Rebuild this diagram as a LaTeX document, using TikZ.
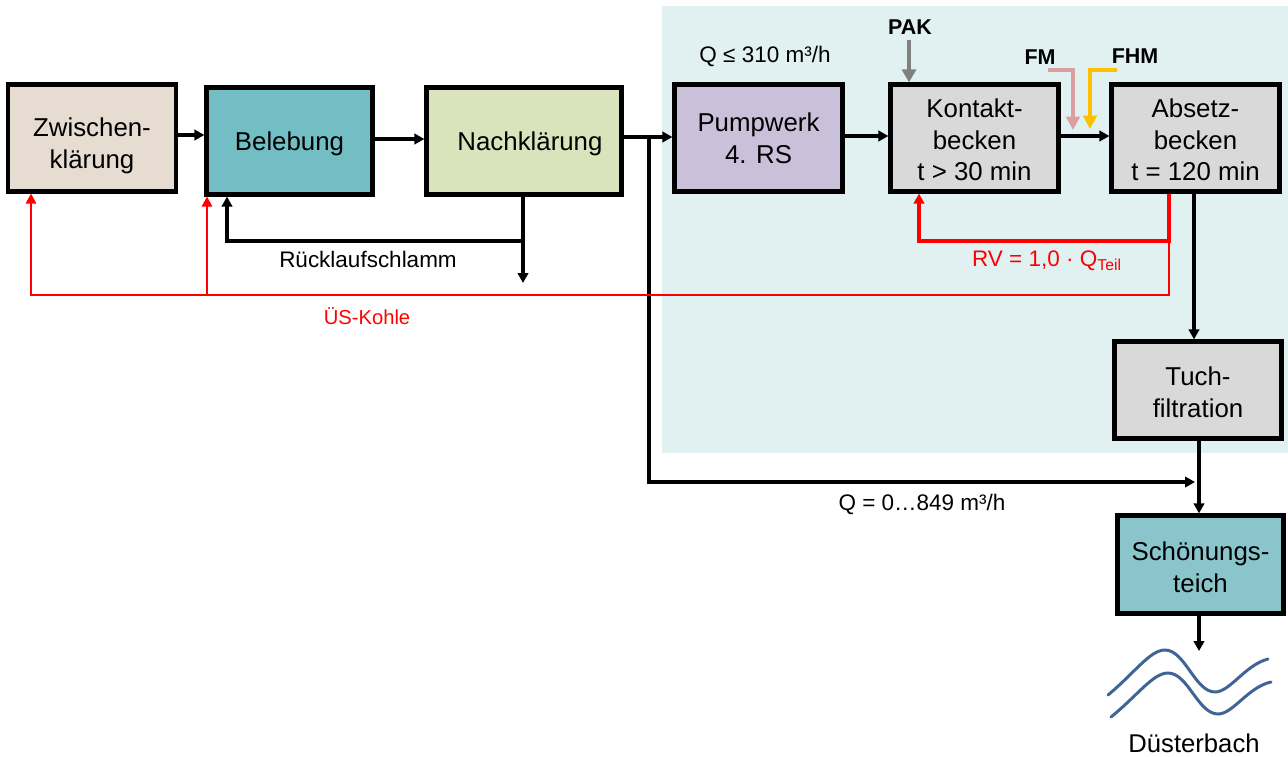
\documentclass[tikz,border=0pt]{standalone}
\usepackage{fontspec}
\setmainfont{Liberation Sans}
\usepackage{tikz}
\usetikzlibrary{arrows.meta, positioning, calc}
\definecolor{Backdrop}{HTML}{E1F1F2}
\definecolor{Sandbox}{HTML}{E7DCD1}
\definecolor{Aeration}{HTML}{73BEC4}
\definecolor{Clarifier}{HTML}{D9E4BD}
\definecolor{Pump}{HTML}{CBC0D9}
\definecolor{Basin}{HTML}{D9D9D9}
\definecolor{Pond}{HTML}{8AC5CC}
\definecolor{FmRose}{HTML}{DC9F9F}
\definecolor{FhmAmber}{HTML}{FFC000}
\definecolor{River}{HTML}{3F6496}
\newcommand{\lowered}[1]{\rule{0pt}{#1}}

\begin{document}
\begin{tikzpicture}[
          font=\fontsize{12.8}{15}\selectfont,
          stage/.style={draw=black, line width=2.4pt, align=center, inner sep=0pt,
            minimum width=3.36cm, minimum height=2.14cm, text=black,
            font=\fontsize{14.7}{18}\selectfont},
          label/.style={inner sep=0pt},
          dose/.style={inner sep=0pt, font=\fontsize{12.2}{14}\bfseries\selectfont},
          flow/.style={-{Triangle[length=2mm,width=2.1mm]}, line width=2pt, color=black},
          sludge/.style={flow, line width=1.75pt},
          carbon/.style={-{Triangle[length=2mm,width=2.1mm]}, line width=0.9pt, color=red},
          recycle/.style={carbon, line width=1.9pt},
          creek/.style={line width=1.7pt, color=River, line cap=round}
        ]
          \useasboundingbox (0,0) rectangle (25.76,-15.12);
          \fill[Backdrop] (13.24,-0.12) rectangle (25.76,-9.06);

          \node[stage, fill=Sandbox] (zw) at (1.84,-2.76) {\lowered{19.5pt}Zwischen-\\klärung};
          \node[stage, fill=Aeration, minimum width=3.32cm] (bel) at (5.79,-2.82) {\lowered{14pt}Belebung};
          \node[stage, fill=Clarifier, minimum width=3.90cm] (nach) at (10.48,-2.82) {\lowered{14pt}\hspace*{6.8pt}Nachklärung};
          \node[stage, fill=Pump] (pump) at (15.17,-2.76) {Pumpwerk\\4. RS};
          \node[stage, fill=Basin] (kontakt) at (19.49,-2.76) {\lowered{13pt}Kontakt-\\becken\\t > 30 min};
          \node[stage, fill=Basin] (absetz) at (23.91,-2.76) {\lowered{13pt}Absetz-\\becken\\t = 120 min};
          \node[stage, fill=Basin, minimum width=3.34cm, minimum height=1.94cm] (tuch) at (23.96,-7.80) {\lowered{13pt}Tuch-\\filtration};
          \node[stage, fill=Pond, minimum width=3.32cm, minimum height=1.96cm] (teich) at (24.01,-11.29) {\lowered{14pt}Schönungs-\\teich};

          \node[label] (qpump) at (15.30,-1.12) {Q ≤ 310 m³/h};
          \node[dose] (pak) at (18.20,-0.54) {PAK};
          \node[dose] (fm) at (20.80,-1.14) {FM};
          \node[dose] (fhm) at (22.70,-1.12) {FHM};
          \node[label] (rs) at (7.36,-5.18) {Rücklaufschlamm};
          \node[label, color=red, font=\fontsize{11.5}{14}\selectfont] (kohle) at (7.34,-6.32) {ÜS-Kohle};
          \node[label, color=red] (rv) at (20.94,-5.22) {RV = 1,0 · Q\textsubscript{Teil}};
          \node[label] (qtotal) at (18.44,-10.08) {Q = 0…849 m³/h};
          \node[label, font=\fontsize{14.6}{18}\selectfont] (bach) at (23.88,-14.86) {Düsterbach};

          % main line
          \draw[flow] (zw.east |- 0,-2.70) -- (bel.west |- 0,-2.70);
          \draw[flow] (bel.east |- 0,-2.78) -- (nach.west |- 0,-2.78);
          \draw[flow] (nach.east |- 0,-2.74) -- (pump.west |- 0,-2.74);
          \draw[flow] (pump.east |- 0,-2.72) -- (kontakt.west |- 0,-2.72);
          \draw[flow] (kontakt.east |- 0,-2.72) -- (absetz.west |- 0,-2.72);
          \draw[flow] (absetz.south -| 23.88,0) -- (tuch.north -| 23.88,0);
          \draw[flow] (tuch.south -| 23.98,0) -- (teich.north -| 23.98,0);
          \coordinate (bachtop) at (23.98,-13.02);
          \draw[flow] (teich.south -| bachtop) -- (bachtop);

          % bypass
          \coordinate (split) at (12.98,-2.74);
          \coordinate (bypass) at (12.98,-9.64);
          \coordinate (bypassend) at (23.90,-9.64);
          \draw[sludge] (split) -- (bypass) -- (bypassend);

          % return sludge
          \coordinate (rsbranch) at (10.46,-4.82);
          \coordinate (rsend) at (10.46,-5.66);
          \coordinate (rscorner) at (4.54,-4.82);
          \draw[sludge] (nach.south -| rsbranch) -- (rsend);
          \draw[sludge] (rsbranch) -- (rscorner) -- (rscorner |- bel.south);

          % recycle and excess carbon
          \coordinate (rvright) at (23.38,-4.82);
          \coordinate (rvleft) at (18.38,-4.82);
          \draw[recycle] (absetz.south -| rvright) -- (rvright) -- (rvleft) -- (rvleft |- kontakt.south);
          \coordinate (kohleright) at (23.38,-5.90);
          \coordinate (kohleleft) at (0.62,-5.90);
          \coordinate (kohlemid) at (4.14,-5.90);
          \draw[carbon] (rvright) -- (kohleright) -- (kohleleft) -- (kohleleft |- zw.south);
          \draw[carbon] (kohlemid) -- (kohlemid |- bel.south);

          % dosing
          \coordinate (paktop) at (18.18,-0.80);
          \draw[-{Triangle[length=2.6mm,width=2.8mm]}, line width=2.3pt, color=gray] (paktop) -- (paktop |- kontakt.north);
          \coordinate (fmstart) at (20.96,-1.40);
          \coordinate (fmcorner) at (21.46,-1.40);
          \coordinate (fmend) at (21.46,-2.60);
          \draw[-{Triangle[length=2.7mm,width=2.7mm]}, line width=2.2pt, color=FmRose] (fmstart) -- (fmcorner) -- (fmend);
          \coordinate (fhmstart) at (22.34,-1.40);
          \coordinate (fhmcorner) at (21.80,-1.40);
          \coordinate (fhmend) at (21.80,-2.58);
          \draw[-{Triangle[length=2.7mm,width=2.7mm]}, line width=2.2pt, color=FhmAmber] (fhmstart) -- (fhmcorner) -- (fhmend);

          % creek
          \draw[creek] (22.16,-13.90) .. controls (22.70,-13.45) and (23.00,-13.00) .. (23.30,-13.00)
            .. controls (23.70,-13.00) and (23.90,-13.84) .. (24.30,-13.84)
            .. controls (24.60,-13.84) and (24.90,-13.30) .. (25.36,-13.18);
          \draw[creek] (22.22,-14.34) .. controls (22.76,-13.90) and (23.06,-13.46) .. (23.36,-13.46)
            .. controls (23.76,-13.46) and (23.96,-14.28) .. (24.36,-14.28)
            .. controls (24.66,-14.28) and (24.96,-13.74) .. (25.42,-13.64);
        \end{tikzpicture}
\end{document}
